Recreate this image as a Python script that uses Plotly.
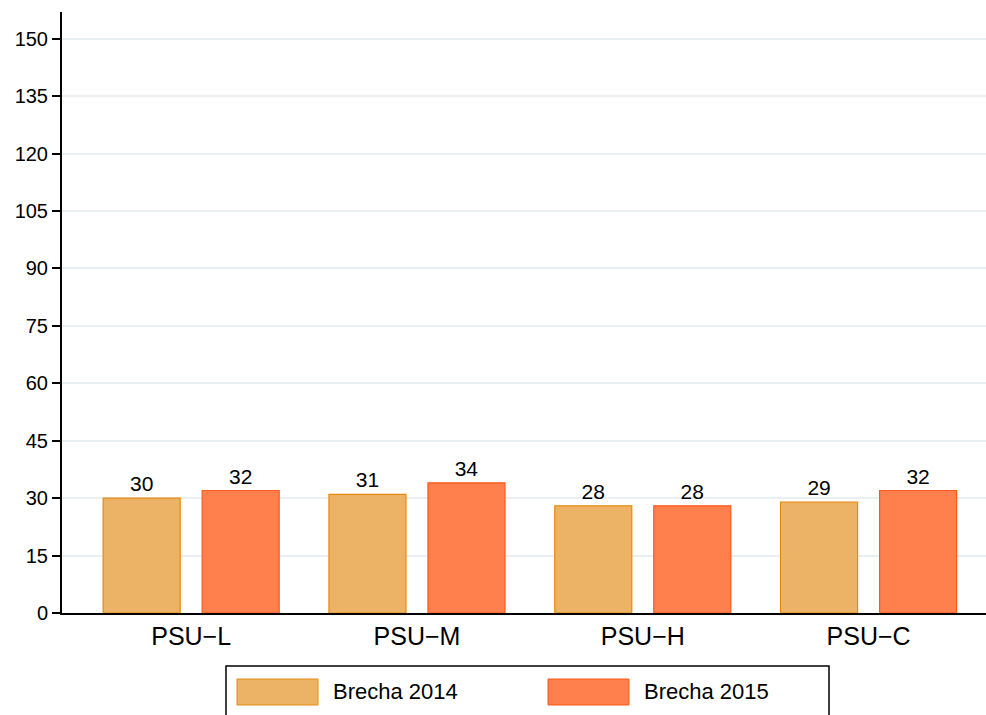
import plotly.graph_objects as go

categories = ["PSU−L", "PSU−M", "PSU−H", "PSU−C"]
series_names = ["Brecha 2014", "Brecha 2015"]
brecha_2014 = [30, 31, 28, 29]
brecha_2015 = [32, 34, 28, 32]
y_ticks = [0, 15, 30, 45, 60, 75, 90, 105, 120, 135, 150]

fills = ["#ECB366", "#FF7F4D"]
lines = ["#E8890E", "#FF5A1A"]

W, H = 986, 715
ML, MR, MT, MB = 62, 0, 12, 102
PW, PH = W - ML - MR, H - MT - MB
FONT = "Liberation Sans, Arial"

fig = go.Figure()
for name, vals, fc, lc in zip(series_names, [brecha_2014, brecha_2015], fills, lines):
    fig.add_trace(go.Bar(
        x=categories, y=vals, name=name,
        marker=dict(color=fc, line=dict(color=lc, width=1.2)),
        text=[str(v) for v in vals], textposition="outside",
        textfont=dict(size=21, color="black", family=FONT),
        cliponaxis=False, showlegend=False,
    ))

def px_x(p):
    return (p - ML) / PW

def px_y(p):
    return (H - MB - p) / PH

shapes = [dict(type="rect", xref="paper", yref="paper",
               x0=px_x(226), x1=px_x(829), y0=px_y(666), y1=px_y(722),
               line=dict(color="black", width=1.5), fillcolor="white")]
annotations = []
sw_x = [237, 548]
tx_x = [333, 644]
for i in range(2):
    shapes.append(dict(type="rect", xref="paper", yref="paper",
                       x0=px_x(sw_x[i]), x1=px_x(sw_x[i] + 81),
                       y0=px_y(679), y1=px_y(705),
                       line=dict(color=lines[i], width=1), fillcolor=fills[i]))
    annotations.append(dict(xref="paper", yref="paper", x=px_x(tx_x[i]), y=px_y(692),
                            text=series_names[i], showarrow=False, xanchor="left",
                            yanchor="middle", xshift=-2,
                            font=dict(size=22, color="black", family=FONT)))

fig.update_layout(
    width=W, height=H,
    margin=dict(l=ML, r=MR, t=MT, b=MB),
    paper_bgcolor="white", plot_bgcolor="white",
    barmode="group", bargap=0.123, bargroupgap=0.222,
    font=dict(family=FONT, color="black"),
    xaxis=dict(range=[-0.572, 3.52], showline=True, linecolor="black", linewidth=2,
               ticks="", tickfont=dict(size=25), showgrid=False),
    yaxis=dict(range=[0, 157], tickvals=y_ticks, showline=True, linecolor="black",
               linewidth=2, ticks="outside", ticklen=8, tickcolor="black", tickwidth=1.5,
               tickfont=dict(size=20), showgrid=True, gridcolor="#EAF0F2", gridwidth=1.5,
               zeroline=False),
    shapes=shapes, annotations=annotations,
)

fig.write_html("out.html", config={"displayModeBar": False})
with open("out.html", encoding="utf-8") as f:
    html = f.read()
html = html.replace("<head>", "<head><style>html,body{margin:0;padding:0;overflow:hidden;}</style>", 1)
with open("out.html", "w", encoding="utf-8") as f:
    f.write(html)
